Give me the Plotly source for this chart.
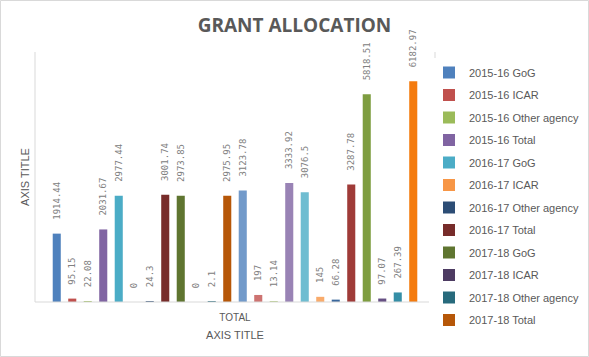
import plotly.graph_objects as go

category = ["TOTAL"]
series_names = [
    "2015-16 GoG", "2015-16 ICAR", "2015-16 Other agency", "2015-16 Total",
    "2016-17 GoG", "2016-17 ICAR", "2016-17 Other agency", "2016-17 Total",
    "2017-18 GoG", "2017-18 ICAR", "2017-18 Other agency", "2017-18 Total",
    "2018-19 GoG", "2018-19 ICAR", "2018-19 Other agency", "2018-19 Total",
    "2019-20 GoG", "2019-20 ICAR", "2019-20 Other agency", "2019-20 Total",
    "2020-21 GoG", "2020-21 ICAR", "2020-21 Other agency", "2020-21 Total",
]
series_values = [
    1914.44, 95.15, 22.08, 2031.67,
    2977.44, 0, 24.3, 3001.74,
    2973.85, 0, 2.1, 2975.95,
    3123.78, 197, 13.14, 3333.92,
    3076.5, 145, 66.28, 3287.78,
    5818.51, 97.07, 267.39, 6182.97,
]
colors = [
    "#4F81BD", "#C0504D", "#9BBB59", "#8064A2", "#4BACC6", "#F79646",
    "#2C4D75", "#772C2A", "#5F7530", "#4D3B62", "#276A7C", "#B65708",
    "#729ACA", "#CD7371", "#AFC97A", "#9983B5", "#6FBDD1", "#F9AB6B",
    "#3A679C", "#9F3B38", "#7E9D40", "#664F83", "#358EA6", "#F47B0E",
]
legend_visible_count = 12

fig = go.Figure()
for i, (name, val) in enumerate(zip(series_names, series_values)):
    fig.add_trace(go.Bar(
        x=category, y=[val], name=name,
        marker=dict(color=colors[i], line=dict(width=0)),
        text=["\u00a0\u00a0" + str(val)], texttemplate="%{text}",
        textposition="outside",
        textangle=-90, cliponaxis=False, constraintext="none",
        textfont=dict(family="DejaVu Sans Mono", size=9, color="#808080"),
        showlegend=i < legend_visible_count,
        legendgroup=f"g{i}",
    ))

W, H = 589, 357
L, R, T, B = 35, 154, 52, 55
pw, ph = W - L - R, H - T - B

def px(x):
    return (x - L) / pw

def py(y):
    return (H - B - y) / ph

fig.update_layout(
    width=W, height=H,
    margin=dict(l=L, r=R, t=T, b=B, autoexpand=False),
    paper_bgcolor="white", plot_bgcolor="white",
    barmode="group", bargap=0.07, bargroupgap=0.48,
    title=dict(text="<b>GRANT ALLOCATION</b>", x=0.5, xanchor="center",
               y=1 - 25 / H, yanchor="middle",
               font=dict(family="Open Sans", size=19, color="#595959")),
    font=dict(family="Liberation Sans", color="#595959"),
    showlegend=True,
    legend=dict(x=px(429), xanchor="left", y=py(58), yanchor="top",
                font=dict(family="Liberation Sans", size=11, color="#595959"),
                tracegroupgap=3.5, itemclick=False, maxheight=330),
    xaxis=dict(showgrid=False, showline=False, ticks="", automargin=False,
               ticklabelstandoff=8,
               tickfont=dict(family="Liberation Sans", size=10, color="#595959"),
               title=dict(text="AXIS TITLE", standoff=9,
                          font=dict(family="Liberation Sans", size=11, color="#595959"))),
    yaxis=dict(range=[0, 7000], showgrid=False, showline=False, showticklabels=False,
               ticks="", zeroline=False, automargin=False,
               title=dict(text="AXIS TITLE", standoff=2,
                          font=dict(family="Liberation Sans", size=11, color="#595959"))),
    shapes=[
        dict(type="rect", xref="paper", yref="paper",
             x0=px(0.5), x1=px(W - 0.5), y0=py(H - 0.5), y1=py(0.5),
             line=dict(color="#D9D9D9", width=1)),
        dict(type="line", xref="paper", yref="paper", x0=0, x1=0, y0=0, y1=1,
             line=dict(color="#D9D9D9", width=1)),
        dict(type="line", xref="paper", yref="paper", x0=1, x1=1, y0=0, y1=1,
             line=dict(color="#D9D9D9", width=1)),
        dict(type="line", xref="paper", yref="paper", x0=0, x1=1, y0=0, y1=0,
             line=dict(color="#D9D9D9", width=1)),
    ],
)

fig.write_html("out.html", config={"displayModeBar": False},
               post_script="document.body.style.margin='0';")
